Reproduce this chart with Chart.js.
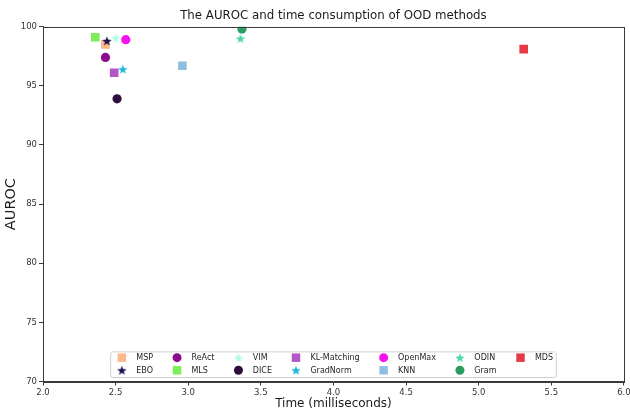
<!DOCTYPE html>
<html>
<head>
<meta charset="utf-8">
<script src="https://cdn.jsdelivr.net/npm/chart.js@4.4.1/dist/chart.umd.min.js"></script>
<style>
  html, body { margin: 0; padding: 0; background: #ffffff; }
  #wrap { width: 630px; height: 411px; }
</style>
</head>
<body>
<div id="wrap"><canvas id="c" width="630" height="411"></canvas></div>
<script>
// OOD detection methods: inference time (ms) vs. AUROC (%)
const methods = ['MSP', 'EBO', 'ReAct', 'MLS', 'VIM', 'DICE', 'KL-Matching',
                 'GradNorm', 'OpenMax', 'KNN', 'ODIN', 'Gram', 'MDS'];
const timeMs  = [2.43, 2.44, 2.43, 2.36, 2.50, 2.51, 2.49,
                 2.55, 2.57, 2.96, 3.36, 3.37, 5.31];
const auroc   = [98.5, 98.8, 97.4, 99.1, 99.05, 93.9, 96.1,
                 96.4, 98.9, 96.7, 99.0, 99.8, 98.1];
const markers = ['square', 'star', 'circle', 'square', 'star', 'circle', 'square',
                 'star', 'circle', 'square', 'star', 'circle', 'square'];
const colors  = ['#fcb88a', '#1b1552', '#8c0a8c', '#7ded5a', '#b0fbe8', '#2d0e3b', '#b356c6',
                 '#20b8d8', '#f810ee', '#8fbfe0', '#4cd6a6', '#2a9d60', '#e63946'];
const xTicks = [2.0, 2.5, 3.0, 3.5, 4.0, 4.5, 5.0, 5.5, 6.0];
const yTicks = [70, 75, 80, 85, 90, 95, 100];

const FONT = 'DejaVu Sans';
const AXIS_COLOR = '#3a3a3a';

// Filled five-pointed star rendered once per colour, used as a point style image
function starImage(color, R) {
  const size = Math.ceil(R * 2 + 2);
  const cv = document.createElement('canvas');
  cv.width = size; cv.height = size;
  const g = cv.getContext('2d');
  const cx = size / 2, cy = size / 2 + R * 0.1;
  const r = R * 0.42;
  g.beginPath();
  for (let i = 0; i < 10; i++) {
    const a = -Math.PI / 2 + i * Math.PI / 5;
    const rr = i % 2 === 0 ? R : r;
    const px = cx + rr * Math.cos(a), py = cy + rr * Math.sin(a);
    if (i === 0) g.moveTo(px, py); else g.lineTo(px, py);
  }
  g.closePath();
  g.fillStyle = color;
  g.fill();
  return cv;
}

function styleFor(i) {
  if (markers[i] === 'star') return { pointStyle: starImage(colors[i], 5), radius: 5 };
  if (markers[i] === 'square') return { pointStyle: 'rect', radius: 6.1 };
  return { pointStyle: 'circle', radius: 4.6 };
}

// later methods are painted over earlier ones
const datasets = methods.map((m, i) => {
  const s = styleFor(i);
  return {
    label: m,
    data: [{ x: timeMs[i], y: auroc[i] }],
    backgroundColor: colors[i],
    borderColor: colors[i],
    borderWidth: 0,
    pointStyle: s.pointStyle,
    pointRadius: s.radius,
    pointHoverRadius: s.radius,
    order: methods.length - i
  };
});

// Axes frame on all four sides
const framePlugin = {
  id: 'frame',
  afterDatasetsDraw(chart) {
    const { ctx, chartArea: a } = chart;
    ctx.save();
    ctx.strokeStyle = AXIS_COLOR;
    ctx.lineWidth = 1;
    ctx.strokeRect(Math.round(a.left) + 0.5, Math.round(a.top) + 0.5,
                   Math.round(a.right - a.left), Math.round(a.bottom - a.top));
    ctx.restore();
  }
};

// Seven-column legend, filled column by column, anchored at lower centre
const legendPlugin = {
  id: 'gridLegend',
  afterDraw(chart) {
    const { ctx, chartArea: a } = chart;
    const fs = 8, em = fs;
    const ncol = 7, nrow = Math.ceil(methods.length / ncol);
    ctx.save();
    ctx.font = fs + 'px "' + FONT + '"';
    const cols = [];
    for (let c = 0; c < ncol; c++) {
      let w = 0;
      for (let r = 0; r < nrow; r++) {
        const k = c * nrow + r;
        if (k < methods.length) w = Math.max(w, ctx.measureText(methods[k]).width);
      }
      cols.push(w);
    }
    const handle = 2 * em, pad = 0.8 * em, colSpace = 2 * em, border = 0.4 * em;
    let inner = 0;
    cols.forEach((w, c) => { inner += handle + pad + w + (c < ncol - 1 ? colSpace : 0); });
    const boxW = inner + 2 * border;
    const boxH = 3.2 * em;
    const boxX = (a.left + a.right) / 2 - boxW / 2;
    const boxY = a.bottom - 0.5 * em - boxH;
    // frame
    ctx.beginPath();
    if (ctx.roundRect) ctx.roundRect(boxX, boxY, boxW, boxH, 2);
    else ctx.rect(boxX, boxY, boxW, boxH);
    ctx.fillStyle = 'rgba(255,255,255,0.8)';
    ctx.fill();
    ctx.strokeStyle = '#d0d0d0';
    ctx.lineWidth = 1;
    ctx.stroke();
    // entries
    const rowY = [boxY + 0.72 * em, boxY + 2.3 * em];
    let x = boxX + border;
    ctx.textBaseline = 'middle';
    ctx.textAlign = 'left';
    for (let c = 0; c < ncol; c++) {
      for (let r = 0; r < nrow; r++) {
        const k = c * nrow + r;
        if (k >= methods.length) continue;
        const ds = chart.data.datasets[k];
        const y = rowY[r];
        ctx.fillStyle = ds.backgroundColor;
        ctx.strokeStyle = ds.borderColor;
        Chart.helpers.drawPoint(ctx, {
          pointStyle: ds.pointStyle,
          radius: ds.pointStyle === 'rect' ? 6 : (ds.pointStyle === 'circle' ? 4.5 : 5),
          borderWidth: 0,
          rotation: 0
        }, x + handle / 2, y);
        ctx.fillStyle = '#262626';
        ctx.fillText(methods[k], x + handle + pad, y + 0.5);
      }
      x += handle + pad + cols[c] + colSpace;
    }
    ctx.restore();
  }
};

new Chart(document.getElementById('c'), {
  type: 'scatter',
  data: { datasets },
  plugins: [framePlugin, legendPlugin],
  options: {
    responsive: false,
    animation: false,
    events: [],
    layout: { padding: { left: 0, right: 5, top: 0, bottom: 0 } },
    plugins: {
      legend: { display: false },
      tooltip: { enabled: false },
      title: {
        display: true,
        fullSize: false,
        text: 'The AUROC and time consumption of OOD methods',
        color: '#1a1a1a',
        font: { family: FONT, size: 11.8, weight: 'normal' },
        padding: { top: 9, bottom: 3.5 }
      }
    },
    scales: {
      x: {
        type: 'linear',
        min: 2.0, max: 6.0,
        afterBuildTicks(s) { s.ticks = xTicks.map(v => ({ value: v })); },
        afterFit(s) { s.height = 29.5; s.paddingLeft = 0; s.paddingRight = 0; },
        ticks: {
          color: '#333333',
          font: { family: FONT, size: 8.5 },
          padding: 2,
          maxRotation: 0,
          autoSkip: false,
          callback: v => Number(v).toFixed(1)
        },
        grid: { display: true, drawOnChartArea: false, drawTicks: true, tickLength: 4, color: AXIS_COLOR },
        border: { display: true, color: AXIS_COLOR },
        title: {
          display: true,
          text: 'Time (milliseconds)',
          color: '#1a1a1a',
          font: { family: FONT, size: 12 },
          padding: { top: 0, bottom: 0 }
        }
      },
      y: {
        type: 'linear',
        min: 70, max: 100,
        afterBuildTicks(s) { s.ticks = yTicks.map(v => ({ value: v })); },
        afterFit(s) { s.width = 43; s.paddingTop = 0; s.paddingBottom = 0; },
        ticks: {
          color: '#333333',
          font: { family: FONT, size: 8.5 },
          padding: 2,
          autoSkip: false
        },
        grid: { display: true, drawOnChartArea: false, drawTicks: true, tickLength: 4, color: AXIS_COLOR },
        border: { display: true, color: AXIS_COLOR },
        title: {
          display: true,
          text: 'AUROC',
          color: '#1a1a1a',
          font: { family: FONT, size: 14.5 },
          padding: { top: 3, bottom: 0 }
        }
      }
    }
  }
});
</script>
</body>
</html>
